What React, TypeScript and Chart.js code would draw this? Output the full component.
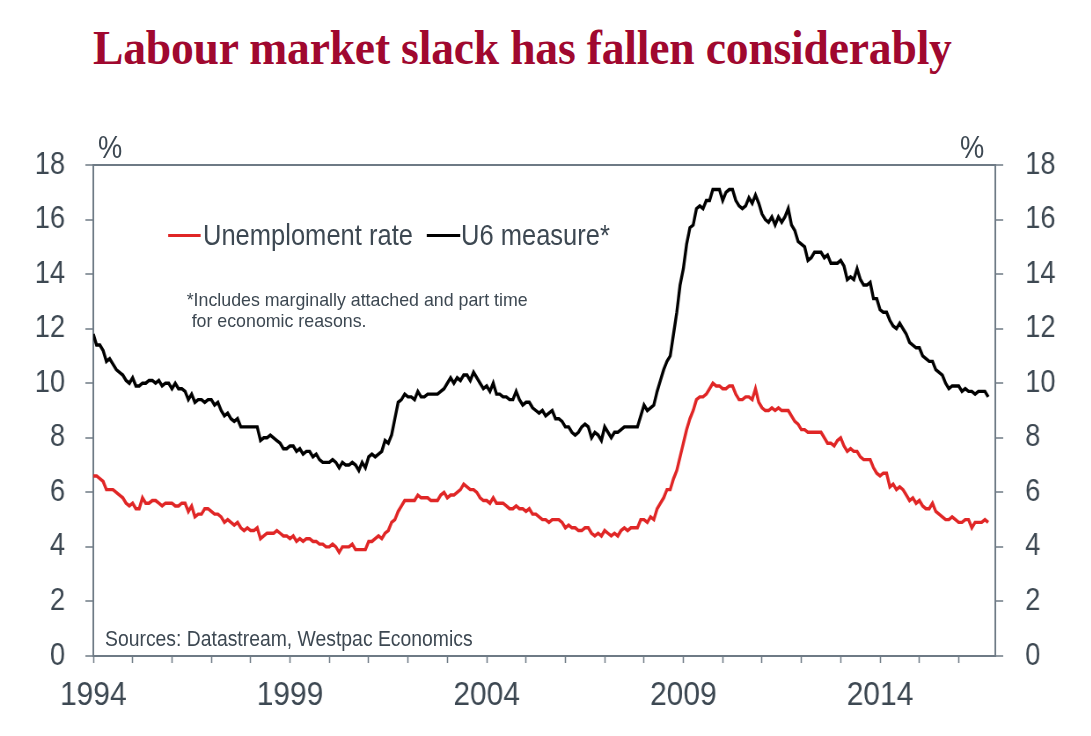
import React, { useEffect, useRef } from "react";
import { Chart, registerables } from "chart.js";

Chart.register(...registerables);

// ---------------- data ----------------
const startYear = 1994; // first observation: January 1994, monthly
const xAxisMax = 2016.93;
const yearTicks = [1994, 1995, 1996, 1997, 1998, 1999, 2000, 2001, 2002, 2003, 2004, 2005, 2006, 2007, 2008, 2009, 2010, 2011, 2012, 2013, 2014, 2015, 2016];
const labelledYears = [1994, 1999, 2004, 2009, 2014];
const yTicks = [0, 2, 4, 6, 8, 10, 12, 14, 16, 18];

const seriesLabels = ["Unemploment rate", "U6 measure*"];
const seriesColors = ["#E02626", "#000000"];

const unemploymentRate = [
  6.6, 6.6, 6.5, 6.4, 6.1, 6.1, 6.1, 6.0, 5.9, 5.8, 5.6, 5.5,
  5.6, 5.4, 5.4, 5.8, 5.6, 5.6, 5.7, 5.7, 5.6, 5.5, 5.6, 5.6,
  5.6, 5.5, 5.5, 5.6, 5.6, 5.3, 5.5, 5.1, 5.2, 5.2, 5.4, 5.4,
  5.3, 5.2, 5.2, 5.1, 4.9, 5.0, 4.9, 4.8, 4.9, 4.7, 4.6, 4.7,
  4.6, 4.6, 4.7, 4.3, 4.4, 4.5, 4.5, 4.5, 4.6, 4.5, 4.4, 4.4,
  4.3, 4.4, 4.2, 4.3, 4.2, 4.3, 4.3, 4.2, 4.2, 4.1, 4.1, 4.0,
  4.0, 4.1, 4.0, 3.8, 4.0, 4.0, 4.0, 4.1, 3.9, 3.9, 3.9, 3.9,
  4.2, 4.2, 4.3, 4.4, 4.3, 4.5, 4.6, 4.9, 5.0, 5.3, 5.5, 5.7,
  5.7, 5.7, 5.7, 5.9, 5.8, 5.8, 5.8, 5.7, 5.7, 5.7, 5.9, 6.0,
  5.8, 5.9, 5.9, 6.0, 6.1, 6.3, 6.2, 6.1, 6.1, 6.0, 5.8, 5.7,
  5.7, 5.6, 5.8, 5.6, 5.6, 5.6, 5.5, 5.4, 5.4, 5.5, 5.4, 5.4,
  5.3, 5.4, 5.2, 5.2, 5.1, 5.0, 5.0, 4.9, 5.0, 5.0, 5.0, 4.9,
  4.7, 4.8, 4.7, 4.7, 4.6, 4.6, 4.7, 4.7, 4.5, 4.4, 4.5, 4.4,
  4.6, 4.5, 4.4, 4.5, 4.4, 4.6, 4.7, 4.6, 4.7, 4.7, 4.7, 5.0,
  5.0, 4.9, 5.1, 5.0, 5.4, 5.6, 5.8, 6.1, 6.1, 6.5, 6.8, 7.3,
  7.8, 8.3, 8.7, 9.0, 9.4, 9.5, 9.5, 9.6, 9.8, 10.0, 9.9, 9.9,
  9.8, 9.8, 9.9, 9.9, 9.6, 9.4, 9.4, 9.5, 9.5, 9.4, 9.8, 9.3,
  9.1, 9.0, 9.0, 9.1, 9.0, 9.1, 9.0, 9.0, 9.0, 8.8, 8.6, 8.5,
  8.3, 8.3, 8.2, 8.2, 8.2, 8.2, 8.2, 8.0, 7.8, 7.8, 7.7, 7.9,
  8.0, 7.7, 7.5, 7.6, 7.5, 7.5, 7.3, 7.2, 7.2, 7.2, 6.9, 6.7,
  6.6, 6.7, 6.7, 6.2, 6.3, 6.1, 6.2, 6.1, 5.9, 5.7, 5.8, 5.6,
  5.7, 5.5, 5.4, 5.4, 5.6, 5.3, 5.2, 5.1, 5.0, 5.0, 5.1, 5.0,
  4.9, 4.9, 5.0, 5.0, 4.7, 4.9, 4.9, 4.9, 5.0, 4.9,
];

const u6Measure = [
  11.8, 11.4, 11.4, 11.2, 10.8, 10.9, 10.7, 10.5, 10.4, 10.3, 10.1, 10.0,
  10.2, 9.9, 9.9, 10.0, 10.0, 10.1, 10.1, 10.0, 10.1, 9.9, 10.0, 10.0,
  9.8, 10.0, 9.8, 9.8, 9.7, 9.4, 9.6, 9.3, 9.4, 9.4, 9.3, 9.4,
  9.4, 9.2, 9.3, 9.0, 8.8, 8.9, 8.7, 8.6, 8.7, 8.4, 8.4, 8.4,
  8.4, 8.4, 8.4, 7.9, 8.0, 8.0, 8.1, 8.0, 7.9, 7.8, 7.6, 7.6,
  7.7, 7.7, 7.5, 7.6, 7.4, 7.5, 7.5, 7.3, 7.4, 7.2, 7.1, 7.1,
  7.1, 7.2, 7.1, 6.9, 7.1, 7.0, 7.0, 7.1, 7.0, 6.8, 7.1, 6.9,
  7.3, 7.4, 7.3, 7.4, 7.5, 7.9, 7.8, 8.1, 8.7, 9.3, 9.4, 9.6,
  9.5, 9.5, 9.4, 9.7, 9.5, 9.5, 9.6, 9.6, 9.6, 9.6, 9.7, 9.8,
  10.0, 10.2, 10.0, 10.2, 10.1, 10.3, 10.3, 10.1, 10.4, 10.2, 10.0, 9.8,
  9.9, 9.7, 10.0, 9.6, 9.6, 9.5, 9.5, 9.4, 9.4, 9.7, 9.4, 9.2,
  9.3, 9.3, 9.1, 9.0, 8.9, 9.0, 8.8, 8.9, 9.0, 8.7, 8.7, 8.6,
  8.4, 8.4, 8.2, 8.1, 8.2, 8.4, 8.5, 8.4, 8.0, 8.2, 8.1, 7.9,
  8.4, 8.2, 8.0, 8.2, 8.2, 8.3, 8.4, 8.4, 8.4, 8.4, 8.4, 8.8,
  9.2, 9.0, 9.1, 9.2, 9.7, 10.1, 10.5, 10.8, 11.0, 11.8, 12.6, 13.6,
  14.2, 15.1, 15.7, 15.8, 16.4, 16.5, 16.4, 16.7, 16.7, 17.1, 17.1, 17.1,
  16.7, 17.0, 17.1, 17.1, 16.7, 16.5, 16.4, 16.5, 16.8, 16.6, 16.9, 16.6,
  16.2, 16.0, 15.9, 16.1, 15.8, 16.1, 15.9, 16.1, 16.4, 15.8, 15.6, 15.2,
  15.1, 15.0, 14.5, 14.6, 14.8, 14.8, 14.8, 14.6, 14.7, 14.4, 14.4, 14.4,
  14.5, 14.3, 13.8, 13.9, 13.8, 14.2, 13.8, 13.6, 13.6, 13.7, 13.1, 13.1,
  12.7, 12.6, 12.6, 12.3, 12.1, 12.0, 12.2, 12.0, 11.8, 11.5, 11.4, 11.3,
  11.3, 11.0, 10.9, 10.8, 10.8, 10.5, 10.4, 10.3, 10.0, 9.8, 9.9, 9.9,
  9.9, 9.7, 9.8, 9.7, 9.7, 9.6, 9.7, 9.7, 9.7, 9.5,
];

const titleText = "Labour market slack has fallen considerably";
const footnoteLines = ["*Includes marginally attached and part time", " for economic reasons."];
const sourceText = "Sources: Datastream, Westpac Economics";
const unitText = "%";

// ---------------- styles ----------------
const SX = 0.88; // horizontal squeeze of the chart picture
const PRE_W = 1240;
const FONT = "'Liberation Sans', Arial, sans-serif";
const TEXT = "#3D4852";
const AXIS = "#6E7A85";
const px = (xRef: number) => xRef / SX;

const toPoints = (vals: number[]) => vals.map((v, i) => ({ x: startYear + i / 12, y: v }));

export default function App() {
  const canvasRef = useRef<HTMLCanvasElement | null>(null);

  useEffect(() => {
    if (!canvasRef.current) return;
    const yCommon = (pos: "left" | "right", width: number, pad: number, onArea: boolean) => ({
      type: "linear" as const,
      position: pos,
      min: 0,
      max: 18,
      afterBuildTicks: (s: any) => {
        s.ticks = yTicks.map((v) => ({ value: v }));
      },
      afterFit: (s: any) => {
        s.width = width;
      },
      ticks: {
        padding: pad,
        color: TEXT,
        font: { family: FONT, size: 31 },
        callback: (v: any) => String(v),
      },
      grid: {
        drawOnChartArea: onArea,
        color: (c: any) => (c.tick && c.tick.value === 18 ? AXIS : "rgba(0,0,0,0)"),
        lineWidth: 2,
        tickColor: AXIS,
        tickLength: 9,
        tickWidth: 1.5,
      },
      border: { display: true, color: AXIS, width: 2 },
    });

    const chart = new Chart(canvasRef.current, {
      type: "line",
      data: {
        datasets: [
          {
            label: seriesLabels[0],
            data: toPoints(unemploymentRate),
            borderColor: seriesColors[0],
            backgroundColor: seriesColors[0],
            borderWidth: 3.4,
            pointRadius: 0,
            tension: 0,
            yAxisID: "y",
          },
          {
            label: seriesLabels[1],
            data: toPoints(u6Measure),
            borderColor: seriesColors[1],
            backgroundColor: seriesColors[1],
            borderWidth: 3.4,
            pointRadius: 0,
            tension: 0,
            yAxisID: "y",
          },
        ],
      },
      options: {
        animation: false,
        responsive: true,
        maintainAspectRatio: false,
        layout: { padding: { top: 165, bottom: 0, left: 0, right: 0 } },
        plugins: {
          legend: { display: false },
          tooltip: { enabled: false },
        },
        scales: {
          x: {
            type: "linear",
            min: startYear,
            max: xAxisMax,
            afterBuildTicks: (s: any) => {
              s.ticks = yearTicks.map((v) => ({ value: v }));
            },
            afterFit: (s: any) => {
              s.height = 80;
            },
            ticks: {
              autoSkip: false,
              maxRotation: 0,
              minRotation: 0,
              padding: 12,
              color: TEXT,
              font: { family: FONT, size: 34 },
              callback: (v: any) => (labelledYears.includes(Number(v)) ? String(v) : ""),
            },
            grid: {
              drawOnChartArea: false,
              tickColor: AXIS,
              tickLength: 7,
              tickWidth: 1.5,
            },
            border: { display: true, color: AXIS, width: 2 },
          },
          y: yCommon("left", Math.round(px(93.5)), 23, true),
          y2: yCommon("right", Math.round(PRE_W - px(995)), 25, false),
        },
      } as any,
    });
    return () => chart.destroy();
  }, []);

  const legendTop = 220.5;
  return (
    <div style={{ position: "fixed", left: 0, top: 0, width: 1091, height: 736, overflow: "hidden", background: "#fff" }}>
      <div
        style={{
          position: "absolute",
          left: 93,
          top: 24,
          fontFamily: "'Liberation Serif', 'Times New Roman', serif",
          fontWeight: "bold",
          fontSize: 48,
          lineHeight: "48px",
          letterSpacing: "-0.2px",
          color: "#A0082F",
          whiteSpace: "nowrap",
          transform: "scaleX(0.95)",
          transformOrigin: "0 0",
        }}
      >
        {titleText}
      </div>

      <div
        style={{
          position: "absolute",
          left: 0,
          top: 0,
          width: PRE_W,
          height: 736,
          transform: `scaleX(${SX})`,
          transformOrigin: "0 0",
        }}
      >
        <canvas ref={canvasRef} style={{ display: "block" }} />

        {/* unit labels */}
        <div style={{ position: "absolute", left: px(98), top: 131.8, fontFamily: FONT, fontSize: 31, lineHeight: "31px", color: TEXT }}>
          {unitText}
        </div>
        <div style={{ position: "absolute", left: px(960), top: 131.8, fontFamily: FONT, fontSize: 31, lineHeight: "31px", color: TEXT }}>
          {unitText}
        </div>

        {/* legend */}
        <div style={{ position: "absolute", left: px(168), top: 234, width: px(201) - px(168), height: 3, background: seriesColors[0] }} />
        <div style={{ position: "absolute", left: px(203), top: legendTop, fontFamily: FONT, fontSize: 29, lineHeight: "29px", color: TEXT, whiteSpace: "nowrap" }}>
          {seriesLabels[0]}
        </div>
        <div style={{ position: "absolute", left: px(427), top: 234, width: px(460) - px(427), height: 3, background: seriesColors[1] }} />
        <div style={{ position: "absolute", left: px(461), top: legendTop, fontFamily: FONT, fontSize: 29, lineHeight: "29px", color: TEXT, whiteSpace: "nowrap" }}>
          {seriesLabels[1]}
        </div>

        {/* sources */}
        <div style={{ position: "absolute", left: px(105), top: 628.4, fontFamily: FONT, fontSize: 22, lineHeight: "22px", color: TEXT, whiteSpace: "nowrap" }}>
          {sourceText}
        </div>
      </div>

      {/* footnote */}
      <div
        style={{
          position: "absolute",
          left: 186.7,
          top: 290.2,
          fontFamily: FONT,
          fontSize: 17.8,
          lineHeight: "20.6px",
          color: TEXT,
          whiteSpace: "pre",
        }}
      >
        {footnoteLines.join("\n")}
      </div>
    </div>
  );
}
